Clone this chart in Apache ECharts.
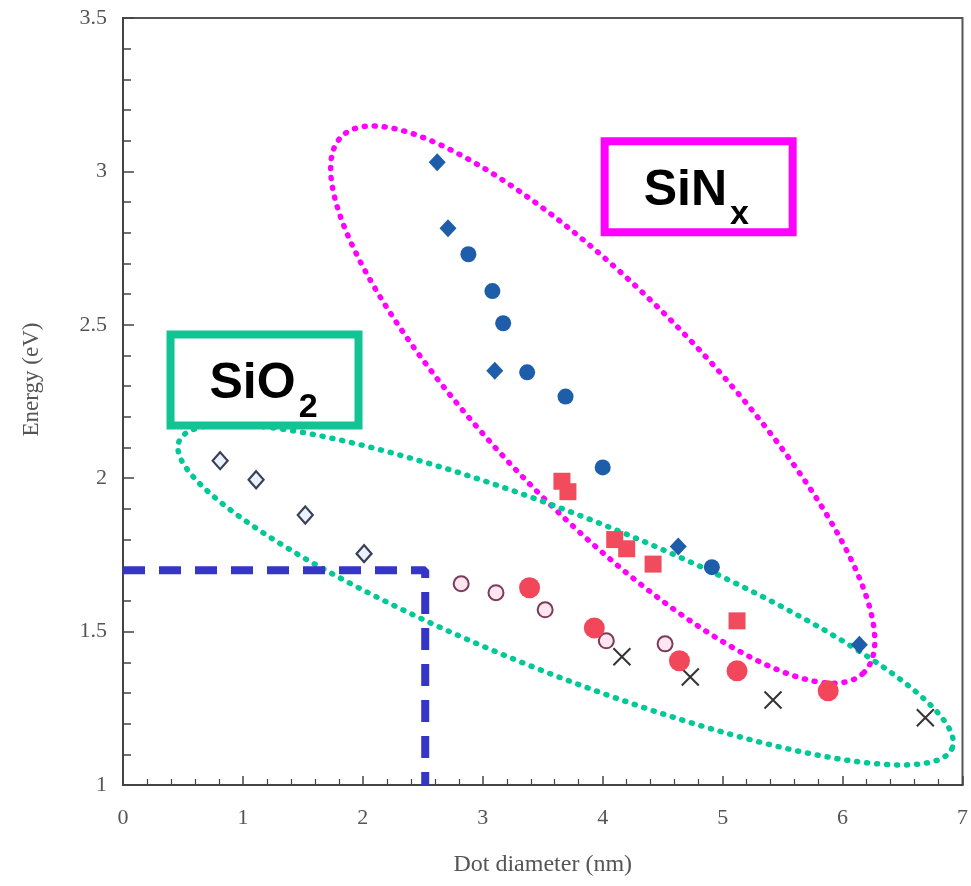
<!DOCTYPE html>
<html>
<head>
<meta charset="utf-8">
<script src="https://cdn.jsdelivr.net/npm/echarts@6/dist/echarts.min.js"></script>
<style>html,body{margin:0;padding:0;background:#fff}#c{width:971px;height:886px}</style>
</head>
<body>
<div id="c"></div>
<script>
// ---- data ----
const xTitle = 'Dot diameter (nm)';
const yTitle = 'Energy (eV)';
const blueDiamondX = [2.62, 2.71, 3.10, 4.63, 6.14];
const blueDiamondY = [3.03, 2.815, 2.35, 1.777, 1.457];
const blueCircleX = [2.88, 3.08, 3.17, 3.37, 3.69, 4.00, 4.91];
const blueCircleY = [2.73, 2.61, 2.505, 2.345, 2.266, 2.035, 1.71];
const redSquareX = [3.66, 3.71, 4.10, 4.20, 4.42, 5.12];
const redSquareY = [1.99, 1.956, 1.80, 1.77, 1.72, 1.535];
const redCircleX = [3.39, 3.93, 4.64, 5.12, 5.88];
const redCircleY = [1.643, 1.512, 1.405, 1.372, 1.307];
const openCircleX = [2.82, 3.11, 3.52, 4.03, 4.52];
const openCircleY = [1.656, 1.627, 1.571, 1.47, 1.46];
const openDiamondX = [0.81, 1.11, 1.52, 2.01];
const openDiamondY = [2.057, 1.995, 1.88, 1.754];
const crossX = [4.16, 4.73, 5.42, 6.69];
const crossY = [1.418, 1.352, 1.277, 1.219];
const guideX = [0, 2.52, 2.52];
const guideY = [1.7, 1.7, 1.0];
// ellipse annotations: centre and conjugate half-axes in data units
const sinxEllipse = {cx: 4.0, cy: 2.24, ax: 2.177, ay: -0.874, bx: 0.639, by: 0.247};
const sio2Ellipse = {cx: 3.69, cy: 1.62, ax: 3.224, ay: -0.50, bx: -0.240, by: -0.240};
// label boxes: centre in data units
const sio2Label = {x: 1.18, y: 2.32, main: 'SiO', sub: '2'};
const sinxLabel = {x: 4.80, y: 2.95, main: 'SiN', sub: 'x'};

function pairs(xs, ys){ return xs.map((x,i)=>[x, ys[i]]); }
function ellipsePts(e){
  const pts=[]; const n=240;
  for(let i=0;i<=n;i++){const t=2*Math.PI*i/n;
    pts.push([e.cx+e.ax*Math.cos(t)+e.bx*Math.sin(t), e.cy+e.ay*Math.cos(t)+e.by*Math.sin(t)]);}
  return pts;
}

const serif = 'Liberation Serif';
const chart = echarts.init(document.getElementById('c'), null, {renderer:'canvas'});
const dotted = (color)=>({color, width:5.5, type:[1,9], cap:'round'});

chart.setOption({
  animation:false,
  backgroundColor:'#fff',
  grid:{left:123, right:4, top:18, bottom:101, show:true, borderColor:'#555', borderWidth:2},
  xAxis:{type:'value', min:0, max:7, interval:1,
    axisLine:{show:true, lineStyle:{color:'#444', width:2}},
    axisTick:{show:true, inside:true, length:9, lineStyle:{color:'#444', width:1.5}},
    minorTick:{show:true, splitNumber:5, length:6, lineStyle:{color:'#444', width:1.2}},
    splitLine:{show:false},
    axisLabel:{fontFamily:serif, fontSize:22, color:'#555', margin:22},
    name:xTitle, nameLocation:'middle', nameGap:68,
    nameTextStyle:{fontFamily:serif, fontSize:24, color:'#555'}},
  yAxis:{type:'value', min:1, max:3.5, interval:0.5,
    axisLine:{show:true, lineStyle:{color:'#444', width:2}},
    axisTick:{show:true, inside:true, length:11, lineStyle:{color:'#444', width:1.5}},
    minorTick:{show:true, splitNumber:5, length:8, lineStyle:{color:'#444', width:1.5}},
    splitLine:{show:false},
    axisLabel:{fontFamily:serif, fontSize:22, color:'#555', margin:16},
    name:yTitle, nameLocation:'middle', nameGap:80, nameRotate:90,
    nameTextStyle:{fontFamily:serif, fontSize:23, color:'#555', padding:[0,0,0,44]}},
  series:[
    {type:'line', data:ellipsePts(sinxEllipse), symbol:'none', silent:true, z:1, lineStyle:dotted('#ff00ff')},
    {type:'line', data:ellipsePts(sio2Ellipse), symbol:'none', silent:true, z:1, lineStyle:dotted('#00c896')},
    {type:'line', data:pairs(guideX, guideY), symbol:'none', silent:true, z:2,
      lineStyle:{color:'#3535c8', width:8, type:[22,14]}},
    {type:'scatter', data:pairs(openDiamondX, openDiamondY), symbol:'diamond', symbolSize:[15,17], z:5,
      itemStyle:{color:'#eaf2ff', borderColor:'#3a3f55', borderWidth:2.2, opacity:1}},
    {type:'scatter', data:pairs(openCircleX, openCircleY), symbol:'circle', symbolSize:15, z:5,
      itemStyle:{color:'#fde6ef', borderColor:'#7a3a5a', borderWidth:2, opacity:1}},
    {type:'scatter', data:pairs(crossX, crossY), symbol:'path://M0,0L10,10M10,0L0,10', symbolSize:17, z:5,
      itemStyle:{color:'none', borderColor:'#333', borderWidth:2, opacity:1}},
    {type:'scatter', data:pairs(redSquareX, redSquareY), symbol:'rect', symbolSize:17, z:6,
      itemStyle:{color:'#f04c5e', opacity:1}},
    {type:'scatter', data:pairs(redCircleX, redCircleY), symbol:'circle', symbolSize:21, z:6,
      itemStyle:{color:'#f2465a', opacity:1}},
    {type:'scatter', data:pairs(blueCircleX, blueCircleY), symbol:'circle', symbolSize:16, z:6,
      itemStyle:{color:'#1d5daa', opacity:1}},
    {type:'scatter', data:pairs(blueDiamondX, blueDiamondY), symbol:'diamond', symbolSize:[17,18], z:6,
      itemStyle:{color:'#1d5daa', opacity:1}}
  ]
});

// label boxes, placed through the axes
const mainFont = 'bold 50px "Liberation Sans", Arial';
const subFont = 'bold 34px "Liberation Sans", Arial';
const meas = document.createElement('canvas').getContext('2d');
function labelBox(lab, color){
  const p = chart.convertToPixel({gridIndex:0}, [lab.x, lab.y]);
  const w=188, h=91;
  meas.font = mainFont;
  const mw = meas.measureText(lab.main).width;
  const left = p[0]-55;
  return [
    {type:'rect', shape:{x:p[0]-w/2, y:p[1]-h/2, width:w, height:h}, z:10,
      style:{fill:'#fff', stroke:color, lineWidth:8}},
    {type:'text', x:left, y:p[1]+29, z:11,
      style:{text:lab.main, font:mainFont, fill:'#000', textAlign:'left', textVerticalAlign:'bottom'}},
    {type:'text', x:left+mw+3, y:p[1]+45, z:11,
      style:{text:lab.sub, font:subFont, fill:'#000', textAlign:'left', textVerticalAlign:'bottom'}}
  ];
}
chart.setOption({graphic:[
  ...labelBox(sio2Label, '#12c393'),
  ...labelBox(sinxLabel, '#ff00ff')
]});
</script>
</body>
</html>
